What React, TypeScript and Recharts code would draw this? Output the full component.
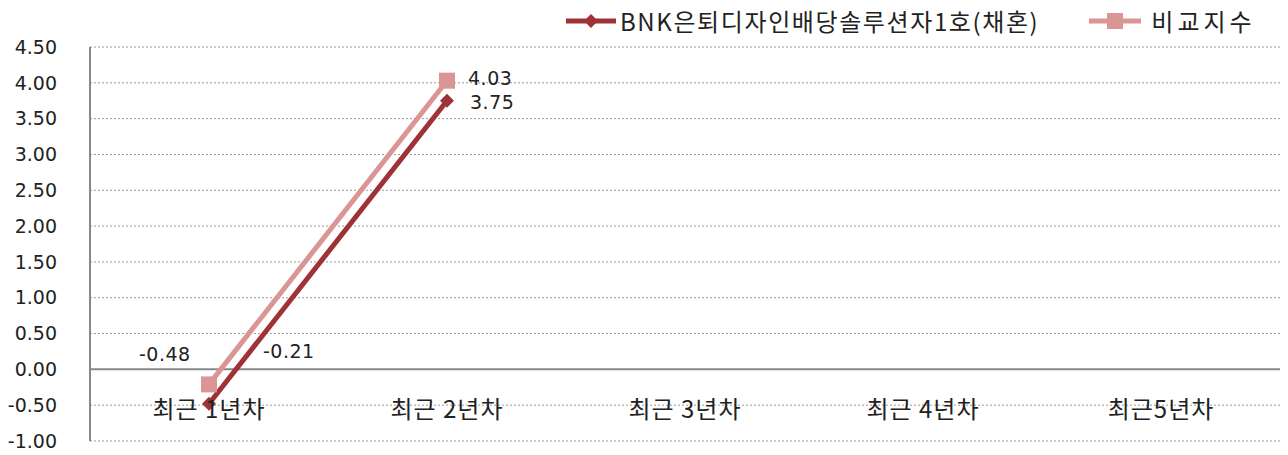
import React from 'react';
import { LineChart, Line, XAxis, YAxis, CartesianGrid, ReferenceLine, LabelList } from 'recharts';

const categories = ['최근 1년차', '최근 2년차', '최근 3년차', '최근 4년차', '최근5년차'];
const fundValues: (number | null)[] = [-0.48, 3.75, null, null, null];
const indexValues: (number | null)[] = [-0.21, 4.03, null, null, null];
const yTicks = [-1, -0.5, 0, 0.5, 1, 1.5, 2, 2.5, 3, 3.5, 4, 4.5];

const FUND_NAME = 'BNK은퇴디자인배당솔루션자1호(채혼)';
const INDEX_NAME = '비교지수';

const FUND_COLOR = '#9e3236';
const INDEX_COLOR = '#d99694';
const FONT = '"Noto Sans CJK KR", "Noto Sans", sans-serif';
const NUM_FONT = '"DejaVu Sans", sans-serif';

const data = categories.map((name, i) => ({
    name,
    fund: fundValues[i],
    index: indexValues[i],
}));

// label offsets relative to each point, per series
const fundLabelOffset = [{ dx: -70, dy: -48 }, { dx: 23, dy: 3 }];
const indexLabelOffset = [{ dx: 54, dy: -32 }, { dx: 21, dy: -1 }];

const Diamond = (props: any) => {
    const { cx, cy } = props;
    if (cx == null || cy == null) return null;
    const r = 7;
    return <path d={`M${cx},${cy - r}L${cx + r},${cy}L${cx},${cy + r}L${cx - r},${cy}Z`} fill={FUND_COLOR} />;
};

const Square = (props: any) => {
    const { cx, cy } = props;
    if (cx == null || cy == null) return null;
    const r = 8;
    return <rect x={cx - r} y={cy - r} width={r * 2} height={r * 2} fill={INDEX_COLOR} />;
};

const makeLabel = (offsets: { dx: number; dy: number }[]) => (props: any) => {
    const { x, y, value, index } = props;
    if (value == null) return null;
    const o = offsets[index] || { dx: 0, dy: 0 };
    return (
        <text x={x + o.dx} y={y + o.dy} fontSize={19} letterSpacing={0.5} fill="#222" fontFamily={NUM_FONT} textAnchor="start" dominantBaseline="middle">
            {Number(value).toFixed(2)}
        </text>
    );
};

const CategoryTick = (props: any) => {
    const { x, y, payload } = props;
    return (
        <text x={x} y={y - 38} fontSize={24} letterSpacing={1} fill="#222" fontFamily={FONT} textAnchor="middle" dominantBaseline="middle">
            {payload.value}
        </text>
    );
};

const LegendBar = () => (
    <div style={{ position: 'absolute', top: 3, left: 566, display: 'flex', alignItems: 'center', fontFamily: FONT, fontSize: 24, color: '#222', whiteSpace: 'nowrap' }}>
        <svg width={52} height={20}>
            <line x1={0} y1={10} x2={50} y2={10} stroke={FUND_COLOR} strokeWidth={5} />
            <path d="M25,3L32,10L25,17L18,10Z" fill={FUND_COLOR} />
        </svg>
        <span style={{ marginLeft: 2, letterSpacing: 1.6 }}>{FUND_NAME}</span>
        <svg width={56} height={20} style={{ marginLeft: 48 }}>
            <line x1={2} y1={10} x2={54} y2={10} stroke={INDEX_COLOR} strokeWidth={5} />
            <rect x={20} y={2} width={16} height={16} fill={INDEX_COLOR} />
        </svg>
        <span style={{ marginLeft: 8, letterSpacing: 4 }}>{INDEX_NAME}</span>
    </div>
);

export default function App() {
    return (
        <div style={{ position: 'absolute', left: 0, top: 0, width: 1288, height: 455, background: '#fff' }}>
            <LegendBar />
            <LineChart width={1288} height={455} data={data} margin={{ top: 47, right: 8, bottom: 13, left: 0 }}>
                <CartesianGrid vertical={false} stroke="#999" strokeDasharray="2 2" />
                <XAxis dataKey="name" scale="band" height={1} axisLine={false} tickLine={false} tick={<CategoryTick />} interval={0} />
                <YAxis
                    width={90}
                    domain={[-1, 4.5]}
                    ticks={yTicks}
                    interval={0}
                    tickFormatter={(v: number) => v.toFixed(2)}
                    axisLine={{ stroke: '#888', strokeWidth: 2 }}
                    tickLine={false}
                    tickMargin={27}
                    tick={{ fontSize: 19, fill: '#222', fontFamily: NUM_FONT }}
                />
                <ReferenceLine y={0} stroke="#888" strokeWidth={2} />
                <Line
                    dataKey="index"
                    stroke={INDEX_COLOR}
                    strokeWidth={5}
                    dot={<Square />}
                    activeDot={false}
                    isAnimationActive={false}
                    connectNulls={false}
                >
                    <LabelList dataKey="index" content={makeLabel(indexLabelOffset)} />
                </Line>
                <Line
                    dataKey="fund"
                    stroke={FUND_COLOR}
                    strokeWidth={5}
                    dot={<Diamond />}
                    activeDot={false}
                    isAnimationActive={false}
                    connectNulls={false}
                >
                    <LabelList dataKey="fund" content={makeLabel(fundLabelOffset)} />
                </Line>
            </LineChart>
        </div>
    );
}
